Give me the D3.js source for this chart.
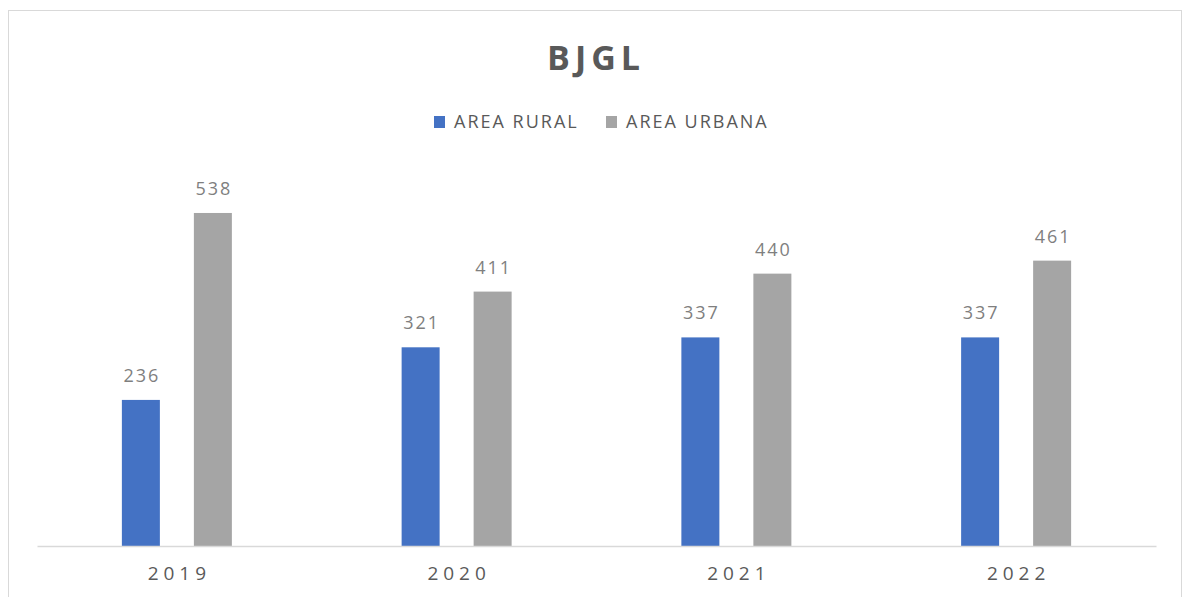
<!DOCTYPE html>
<html>
<head>
<meta charset="utf-8">
<script src="https://cdn.jsdelivr.net/npm/d3@7"></script>
<style>
  body { margin: 0; background: #fff; }
  svg { display: block; font-family: "Open Sans", "DejaVu Sans", sans-serif; }
</style>
</head>
<body>
<div id="chart"></div>
<script>
// chart data
var years  = ["2019", "2020", "2021", "2022"];
var rural  = [236, 321, 337, 337];
var urbana = [538, 411, 440, 461];
var seriesNames  = ["AREA RURAL", "AREA URBANA"];
var seriesColors = ["#4472C4", "#A5A5A5"];

var W = 1184, H = 597;
var svg = d3.select("#chart").append("svg").attr("width", W).attr("height", H);

// outer frame
svg.append("rect").attr("x", 8.5).attr("y", 10.5).attr("width", 1173).attr("height", 600)
    .attr("fill", "#fff").attr("stroke", "#d9d9d9");

var left = 37, right = 1156, base = 546;

var x = d3.scaleBand().domain(years).range([left, right]);
var y = d3.scaleLinear().domain([0, 600]).range([base, base - 0.619 * 600]);

var rows = years.map(function(yr, i) { return { k: yr, v: [rural[i], urbana[i]] }; });

// bar layout inside each band: bar, gap, bar
var barW = 38, gap = 34, groupW = barW * 2 + gap;
var inner = d3.scaleBand().domain([0, 1]).range([0, groupW]).paddingInner(gap / (barW + gap));

var g = svg.append("g");
var groups = g.selectAll(".yr").data(rows).enter().append("g")
    .attr("transform", function(d) { return "translate(" + (x(d.k) + x.bandwidth() / 2 - groupW / 2) + ",0)"; });

var cells = function(d) { return d.v.map(function(v, i) { return { i: i, v: v }; }); };

groups.selectAll("rect").data(cells).enter().append("rect")
    .attr("x", function(d) { return inner(d.i); })
    .attr("y", function(d) { return y(d.v); })
    .attr("width", inner.bandwidth())
    .attr("height", function(d) { return base - y(d.v); })
    .attr("fill", function(d) { return seriesColors[d.i]; });

groups.selectAll("text").data(cells).enter().append("text")
    .attr("x", function(d) { return inner(d.i) + inner.bandwidth() / 2 + 1; })
    .attr("y", function(d) { return y(d.v) - 18; })
    .attr("text-anchor", "middle")
    .attr("font-size", 18)
    .attr("letter-spacing", 2)
    .attr("fill", "#7f7f7f")
    .text(function(d) { return d.v; });

// x axis
var xAxis = svg.append("g").attr("transform", "translate(0," + base + ")")
    .call(d3.axisBottom(x).tickSize(0).tickPadding(20));
xAxis.select(".domain").attr("stroke", "#d9d9d9").attr("stroke-width", 1.5);
xAxis.selectAll("text")
    .attr("font-family", "'Open Sans', 'DejaVu Sans', sans-serif")
    .attr("font-size", 19)
    .attr("letter-spacing", 5)
    .attr("dx", 2.5)
    .attr("dy", 0)
    .attr("y", 34)
    .attr("fill", "#595959");

// title
svg.append("text").attr("x", 596).attr("y", 70).attr("text-anchor", "middle")
    .attr("font-size", 34).attr("font-weight", "bold").attr("letter-spacing", 5)
    .attr("fill", "#595959").text("BJGL");

// legend
var legendX = [434, 606];
var leg = svg.selectAll(".leg").data(seriesNames).enter().append("g")
    .attr("transform", function(d, i) { return "translate(" + legendX[i] + ",116)"; });
leg.append("rect").attr("width", 11).attr("height", 12)
    .attr("fill", function(d, i) { return seriesColors[i]; });
leg.append("text").attr("x", 20).attr("y", 12).attr("font-size", 18)
    .attr("letter-spacing", 2).attr("fill", "#595959").text(function(d) { return d; });
</script>
</body>
</html>
